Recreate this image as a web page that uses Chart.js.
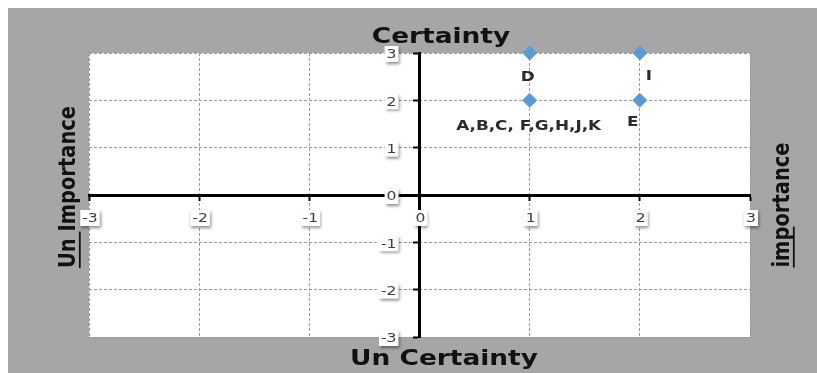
<!DOCTYPE html>
<html>
<head>
<meta charset="utf-8">
<title>Certainty / Importance</title>
<script src="https://cdn.jsdelivr.net/npm/chart.js@4.4.1/dist/chart.umd.min.js"></script>
<style>
  html, body { margin: 0; padding: 0; background: #fff; }
  #wrap { position: absolute; left: 8px; top: 8px; }
</style>
</head>
<body>
<div id="wrap"><canvas id="quadChart" width="809" height="365"></canvas></div>
<script>
// data
const xTicks = [-3, -2, -1, 0, 1, 2, 3];
const yTicks = [-3, -2, -1, 0, 1, 2, 3];
const pointX = [1, 2, 1, 2];
const pointY = [3, 3, 2, 2];
const pointNames = ['D', 'I', 'A,B,C, F,G,H,J,K', 'E'];

// label offsets from each point, in px (style only)
const nameOffsets = [[-2, 24], [9, 23], [-1, 26], [-7, 22]];

const STRETCH = 1.2;   // the reference text looks stretched sideways
const BG = '#a6a6a6';
const GRID = '#9a9a9a';
const MARKER = '#5b9bd5';

function drawText(ctx, text, x, y, opts) {
  ctx.save();
  ctx.translate(x, y);
  ctx.scale(STRETCH, 1);
  if (opts.rot) ctx.rotate(opts.rot);
  ctx.font = opts.font;
  ctx.fillStyle = opts.color || '#000';
  ctx.textAlign = 'center';
  ctx.textBaseline = opts.baseline || 'alphabetic';
  ctx.fillText(text, 0, 0);
  if (opts.underline) {
    const w = ctx.measureText(text).width;
    const u = ctx.measureText(opts.underline).width;
    ctx.strokeStyle = ctx.fillStyle;
    ctx.lineWidth = 1.5;
    ctx.beginPath();
    ctx.moveTo(-w / 2, 4);
    ctx.lineTo(-w / 2 + u, 4);
    ctx.stroke();
  }
  ctx.restore();
}

function tickBox(ctx, text, cx, cy, align) {
  ctx.save();
  ctx.font = '13px "DejaVu Sans"';
  const w = ctx.measureText(text).width * STRETCH + 4;
  const h = 16;
  const left = align === 'right' ? cx - w : cx - w / 2;
  ctx.shadowColor = 'rgba(0,0,0,0.45)';
  ctx.shadowBlur = 3;
  ctx.shadowOffsetX = 1;
  ctx.shadowOffsetY = 2;
  ctx.fillStyle = '#fff';
  ctx.fillRect(left, cy - h / 2, w, h);
  ctx.restore();
  drawText(ctx, text, left + w / 2, cy + 1, {
    font: '13px "DejaVu Sans"', color: '#3c3c3c', baseline: 'middle'
  });
}

const quadPlugin = {
  id: 'quad',
  beforeDraw(chart) {
    const { ctx, chartArea: a } = chart;
    ctx.save();
    ctx.fillStyle = BG;
    ctx.fillRect(0, 0, chart.width, chart.height);
    ctx.fillStyle = '#fff';
    ctx.fillRect(a.left, a.top, a.right - a.left, a.bottom - a.top);
    ctx.restore();
  },
  afterDraw(chart) {
    const ctx = chart.ctx;
    const xs = chart.scales.x, ys = chart.scales.y;
    const x0 = xs.getPixelForValue(0), y0 = ys.getPixelForValue(0);

    xs.ticks.forEach(t => tickBox(ctx, String(t.value), xs.getPixelForValue(t.value) + 1, y0 + 23));
    ys.ticks.forEach(t => tickBox(ctx, String(t.value), x0 - 21, ys.getPixelForValue(t.value) + 1, 'right'));

    // point names
    pointNames.forEach((name, i) => {
      const px = xs.getPixelForValue(pointX[i]) + nameOffsets[i][0];
      const py = ys.getPixelForValue(pointY[i]) + nameOffsets[i][1];
      drawText(ctx, name, px, py, { font: 'bold 14px "DejaVu Sans"', color: '#2b2b2b', baseline: 'middle' });
    });

    // axis titles
    const tf = 'bold 22px "DejaVu Sans"';
    drawText(ctx, 'Certainty', 433, 35, { font: tf, color: '#111' });
    drawText(ctx, 'Un Certainty', 436, 357, { font: tf, color: '#111' });
    drawText(ctx, 'Un Importance', 67, 179, { font: 'bold 19.5px "DejaVu Sans"', color: '#111', rot: -Math.PI / 2, underline: 'Un ' });
    drawText(ctx, 'importance', 781, 197, { font: 'bold 19.5px "DejaVu Sans"', color: '#111', rot: -Math.PI / 2, underline: 'imp' });
  }
};

function gridColor(c) {
  return c.tick && c.tick.value === 0 ? 'rgba(0,0,0,0)' : GRID;
}

new Chart(document.getElementById('quadChart'), {
  type: 'scatter',
  data: {
    datasets: [{
      data: pointX.map((x, i) => ({ x, y: pointY[i] })),
      pointStyle: 'rectRot',
      radius: 7,
      hoverRadius: 7,
      backgroundColor: MARKER,
      borderColor: MARKER,
      borderWidth: 1,
      clip: false
    }]
  },
  options: {
    responsive: false,
    animation: false,
    layout: { padding: { left: 81, top: 45, right: 67, bottom: 36 } },
    plugins: {
      legend: { display: false },
      tooltip: { enabled: false }
    },
    scales: {
      x: {
        type: 'linear',
        min: -3,
        max: 3,
        position: { y: 0 },
        afterBuildTicks: s => { s.ticks = xTicks.map(v => ({ value: v })); },
        ticks: { display: false },
        grid: { color: gridColor, lineWidth: 1, tickLength: 4, tickColor: '#000', tickWidth: 2 },
        border: { color: '#000', width: 3, dash: [3, 2] }
      },
      y: {
        type: 'linear',
        min: -3,
        max: 3,
        position: { x: 0 },
        afterBuildTicks: s => { s.ticks = yTicks.map(v => ({ value: v })); },
        ticks: { display: false },
        grid: { color: gridColor, lineWidth: 1, tickLength: 5, tickColor: '#000', tickWidth: 2 },
        border: { color: '#000', width: 3, dash: [3, 2] }
      }
    }
  },
  plugins: [quadPlugin]
});
</script>
</body>
</html>
